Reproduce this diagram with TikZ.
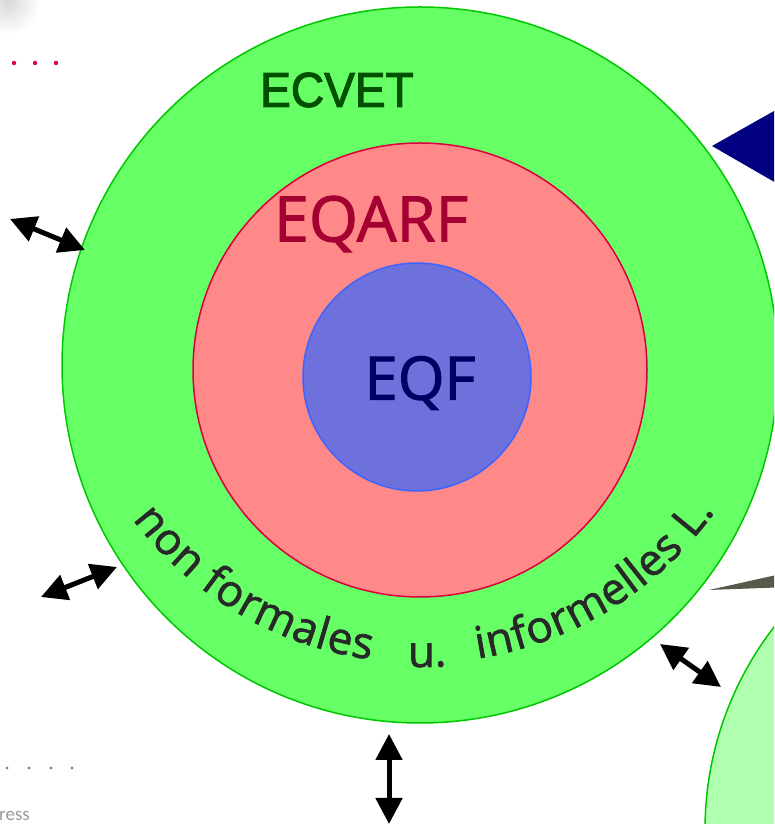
\documentclass[tikz,border=0pt]{standalone}
\usepackage{fontspec}
\usetikzlibrary{arrows.meta,decorations.text}
\newfontfamily\osans[FakeBold=1.6]{Open Sans}
\newfontfamily\lsans[FakeBold=2.2]{Liberation Sans}
\newfontfamily\carl{Carlito}
\definecolor{ecvetfill}{RGB}{102,255,102}
\definecolor{ecvetline}{RGB}{0,200,0}
\definecolor{ecvettext}{RGB}{0,80,0}
\definecolor{eqarffill}{RGB}{255,136,136}
\definecolor{eqarfline}{RGB}{220,0,60}
\definecolor{eqarftext}{RGB}{165,0,50}
\definecolor{eqffill}{RGB}{110,112,220}
\definecolor{eqfline}{RGB}{60,100,255}
\definecolor{eqftext}{RGB}{0,0,100}
\definecolor{arctext}{RGB}{40,40,40}
\definecolor{navytri}{RGB}{0,0,128}
\definecolor{wedge}{RGB}{85,90,75}
\definecolor{lightgreen}{RGB}{176,255,176}
\definecolor{reddot}{RGB}{225,0,70}
\definecolor{graydot}{RGB}{130,130,130}
\tikzset{
  ring/.style={circle, inner sep=0pt, line width=1.5pt},
  dblarrow/.style={line width=5pt, {Triangle[length=26pt,width=26pt]}-{Triangle[length=26pt,width=26pt]}},
  arcfit/.style={decorate, decoration={text along path, text align=fit to path, text color=arctext,
     text={|\osans\fontsize{44}{44}\selectfont|#1}}},
  arcmid/.style={decorate, decoration={text along path, text align=center, text color=arctext,
     text={|\osans\fontsize{44}{44}\selectfont|#1}}}
}
\begin{document}
\begin{tikzpicture}[x=1pt,y=1pt]
\useasboundingbox (0,0) rectangle (774,824);
\begin{scope}
\clip (0,0) rectangle (774,824);
% faint grey blob top-left
\shade[inner color=gray!30, outer color=white] (8,822) circle (32);
% dots
\foreach \x in {14,35,56} \fill[reddot] (\x,761) circle (2.2);
\foreach \x in {7,29,51,72} \fill[graydot] (\x,56) circle (1.6);
\node[anchor=base west, inner sep=0pt, text=gray!80, font=\carl\fontsize{19}{19}\selectfont] (ress) at (-1,3) {ress};
% right side shapes
\fill[navytri] (712,678) -- (790,722) -- (790,633) -- cycle;
\fill[wedge] (709,234) -- (790,252) -- (790,237) -- cycle;
\node[ring, draw=ecvetline, fill=lightgreen, minimum size=666pt] (lg) at (1038,-6) {};
% concentric circles
\node[ring, draw=ecvetline, fill=ecvetfill, minimum size=716pt] (ecvet) at (420,459) {};
\node[ring, draw=eqarfline, fill=eqarffill, minimum size=454pt] (eqarf) at (420,454) {};
\node[ring, draw=eqfline, fill=eqffill, minimum size=228pt] (eqf) at (417,447) {};
\node[text=ecvettext, font=\lsans\fontsize{49}{49}\selectfont, xscale=0.94] (tecvet) at (337,734) {ECVET};
\node[text=eqarftext, font=\osans\fontsize{63}{63}\selectfont] (teqarf) at (371,600) {EQARF};
\node[text=eqftext, font=\osans\fontsize{60}{60}\selectfont] (teqf) at (420,441) {EQF};
% arc text
\coordinate (c) at (421,522);
\path[arcfit={non formales}] (c) ++(217:361) arc[start angle=217, end angle=262, radius=361];
\path[arcmid={u.}] (c) ++(265.5:365) arc[start angle=265.5, end angle=276.5, radius=365];
\path[arcfit={informelles L.}] (c) ++(279:361) arc[start angle=279, end angle=324.5, radius=361];
% arrows
\coordinate (a1s) at (10,605); \coordinate (a1e) at (85,574);
\coordinate (a2s) at (41,227); \coordinate (a2e) at (117,257);
\coordinate (a3s) at (389,90); \coordinate (a3e) at (389,0);
\coordinate (a4s) at (660,180); \coordinate (a4e) at (721,137);
\draw[dblarrow] (a1s) -- (a1e);
\draw[dblarrow] (a2s) -- (a2e);
\draw[dblarrow] (a3s) -- (a3e);
\draw[dblarrow] (a4s) -- (a4e);
\end{scope}
\end{tikzpicture}
\end{document}
